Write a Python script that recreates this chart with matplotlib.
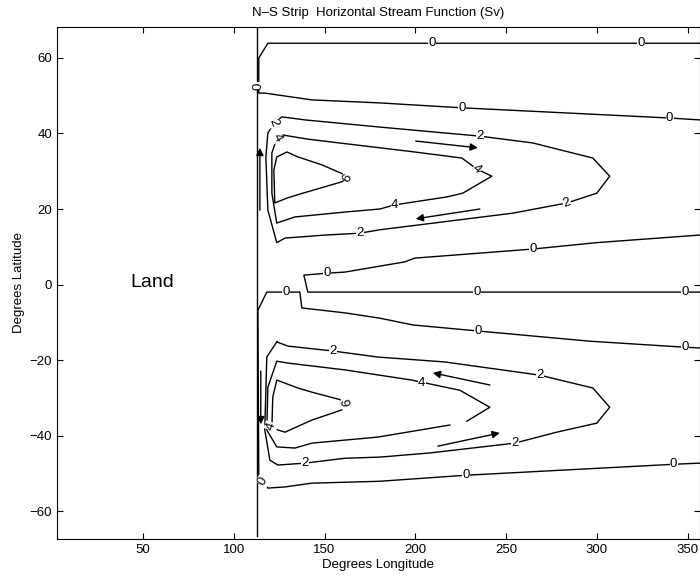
import matplotlib.pyplot as plt

plt.rcParams['font.family'] = ['Liberation Sans', 'DejaVu Sans']

# contour lines (lon, lat)
n0_lon = [356.5, 118.8, 113.8, 113.8, 117.1, 143.0, 180.4, 225.6, 340.0, 356.5]
n0_lat = [63.9, 63.9, 60.0, 50.7, 50.7, 48.9, 48.1, 46.8, 44.1, 43.6]

n2_lon = [122.1, 126.5, 139.2, 180.4, 235.5, 264.6, 297.7, 307.0, 299.9, 283.4, 253.6,
          180.4, 169.4, 150.2, 128.2, 123.7, 118.8, 117.7, 118.8, 122.1]
n2_lat = [42.8, 44.4, 43.6, 41.7, 39.3, 37.5, 33.5, 28.7, 24.2, 21.6, 18.9,
          14.5, 13.6, 13.1, 12.3, 11.1, 19.7, 33.8, 40.1, 42.8]

n4_lon = [123.7, 127.0, 140.8, 199.7, 225.6, 233.8, 242.1, 226.1, 217.3, 188.7, 180.4,
          161.2, 133.7, 123.7, 121.0, 121.0, 123.7]
n4_lat = [38.8, 39.6, 38.5, 35.1, 33.5, 30.6, 28.7, 24.2, 23.2, 21.1, 20.0,
          19.2, 17.9, 16.3, 24.2, 34.8, 38.8]

n6_lon = [162.8, 160.0, 148.5, 135.3, 129.3, 123.7, 122.1, 122.6, 129.3, 138.1, 159.5, 162.8]
n6_lat = [28.2, 29.3, 31.7, 33.8, 35.1, 33.8, 30.3, 21.6, 22.9, 24.2, 27.2, 28.2]

e0n_lon = [356.5, 299.9, 264.6, 199.7, 194.2, 161.2, 151.3, 138.6, 140.8, 356.5]
e0n_lat = [13.1, 11.1, 9.4, 7.0, 6.0, 3.3, 3.0, 2.5, -2.0, -2.0]

e0s_lon = [356.5, 348.3, 296.0, 234.4, 198.6, 180.4, 161.2, 137.5, 136.4, 118.2, 113.3,
           113.8, 116.0, 118.8, 128.2, 143.0, 180.4, 227.8, 342.2, 356.5]
e0s_lat = [-16.8, -16.6, -15.0, -12.3, -10.7, -8.9, -7.5, -6.2, -2.0, -2.0, -6.8,
           -51.0, -52.1, -53.9, -53.6, -52.6, -52.1, -50.5, -47.6, -47.3]

s2_lon = [123.7, 129.8, 154.6, 179.3, 216.2, 268.5, 297.7, 307.0, 299.9, 277.8, 254.7,
          208.0, 180.4, 161.2, 139.2, 124.3, 119.9, 117.1, 118.2, 123.7]
s2_lat = [-15.2, -16.3, -17.6, -19.2, -20.5, -24.0, -27.4, -32.5, -36.7, -39.1, -42.0,
          -44.6, -45.7, -46.0, -47.3, -47.8, -46.5, -38.5, -19.2, -15.2]

s4_lon = [219.0, 179.3, 143.0, 133.7, 123.7, 118.2, 118.8, 123.7, 129.8, 161.2, 198.0,
          224.5, 241.0, 228.3]
s4_lat = [-37.2, -40.4, -42.0, -43.3, -43.0, -38.5, -27.2, -20.3, -20.8, -22.6, -25.3,
          -28.0, -32.5, -36.2]

s6_lon = [162.8, 159.5, 143.0, 135.3, 123.7, 121.5, 121.0, 128.2, 143.0, 159.5]
s6_lat = [-31.1, -30.6, -28.5, -27.4, -25.3, -29.8, -38.0, -39.1, -35.9, -33.2]

contours = [(n0_lon, n0_lat), (n2_lon, n2_lat), (n4_lon, n4_lat), (n6_lon, n6_lat),
            (e0n_lon, e0n_lat), (e0s_lon, e0s_lat), (s2_lon, s2_lat), (s4_lon, s4_lat),
            (s6_lon, s6_lat)]

# contour labels: (lon, lat, text, rotation)
labels = [
    (209.1, 63.9, '0', 0), (324.1, 63.9, '0', 0), (113.8, 52.6, '0', 90),
    (225.6, 46.8, '0', 0), (340.0, 44.1, '0', 0),
    (122.1, 42.8, '2', -70), (235.5, 39.3, '2', 0), (283.4, 21.6, '2', 20), (169.4, 13.6, '2', 0),
    (123.7, 38.8, '4', -60), (233.8, 30.6, '4', -40), (188.7, 21.1, '4', 0),
    (162.8, 28.2, '6', 60),
    (264.6, 9.4, '0', 0), (151.3, 3.0, '0', 0), (233.8, -2.0, '0', 0), (348.3, -2.0, '0', 0),
    (348.3, -16.6, '0', 0), (234.4, -12.3, '0', 0), (128.7, -2.0, '0', 0), (116.0, -52.1, '0', 60),
    (227.8, -50.5, '0', 0), (342.2, -47.6, '0', 0),
    (154.6, -17.6, '2', 0), (268.5, -24.0, '2', 0), (254.7, -42.0, '2', 0), (139.2, -47.3, '2', 0),
    (203.5, -26.1, '4', 0), (120.5, -37.5, '4', 70),
    (162.8, -31.1, '6', 100),
]

# flow arrows: (start lon, start lat, end lon, end lat)
arrows = [
    (114.4, 19.7, 114.4, 36.2), (200.2, 38.0, 234.4, 36.2), (235.5, 20.0, 200.2, 17.4),
    (114.9, -22.9, 114.9, -37.0), (241.0, -26.6, 209.6, -23.4), (212.4, -42.8, 246.5, -39.3),
]

coast_lon = [112.7, 112.7]
coast_lat = [-66.5, 68.3]

fig = plt.figure(figsize=(7, 5.79), dpi=100)
ax = fig.add_axes([0.0814, 0.069, 0.9186, 0.885])

for lon, lat in contours:
    ax.plot(lon, lat, color='black', lw=1.0)

ax.plot(coast_lon, coast_lat, color='black', lw=1.0)

for x, y, t, r in labels:
    ax.text(x, y, t, fontsize=9.5, rotation=r, ha='center', va='center', zorder=5,
            bbox=dict(facecolor='white', edgecolor='none', pad=0.3))

for x0, y0, x1, y1 in arrows:
    ax.annotate('', xy=(x1, y1), xytext=(x0, y0),
                arrowprops=dict(arrowstyle='-|>', color='black', lw=1.0,
                                mutation_scale=11, shrinkA=0, shrinkB=0))

ax.text(55, 0.5, 'Land', fontsize=14, ha='center', va='center')

ax.set_xlim(2.7, 356.7)
ax.set_ylim(-67.4, 68.3)
ax.set_xticks([50, 100, 150, 200, 250, 300, 350])
ax.set_yticks([-60, -40, -20, 0, 20, 40, 60])
ax.tick_params(direction='in', top=True, right=True, labelsize=9.5, length=4)
ax.set_xlabel('Degrees Longitude', fontsize=9.5, labelpad=2)
ax.set_ylabel('Degrees Latitude', fontsize=9.5, labelpad=3)
ax.set_title('N\u2013S Strip  Horizontal Stream Function (Sv)', fontsize=9.5, pad=8)

plt.savefig('out.png', dpi=100)
